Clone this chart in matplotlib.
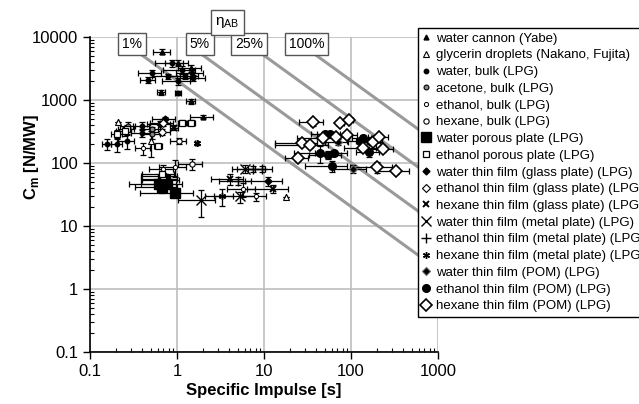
import numpy as np
import matplotlib
matplotlib.use('Agg')
import matplotlib.pyplot as plt
from matplotlib.lines import Line2D

plt.rcParams['font.family'] = ['Liberation Sans', 'DejaVu Sans']
plt.rcParams['mathtext.fontset'] = 'custom'
plt.rcParams['mathtext.rm'] = 'Liberation Sans'
plt.rcParams['mathtext.bf'] = 'Liberation Sans:bold'

x_ticks = [0.1, 1, 10, 100, 1000]
x_tick_labels = ['0.1', '1', '10', '100', '1000']
y_ticks = [0.1, 1, 10, 100, 1000, 10000]
y_tick_labels = ['0.1', '1', '10', '100', '1000', '10000']

# efficiency lines eta_AB = Cm * g * Isp / 2
eta_values = [0.01, 0.05, 0.25, 1.0]
eta_labels = ['1%', '5%', '25%', '100%']
g0 = 9.8

# each series: Isp [s], Cm [N/MW], relative x error, relative y error
cannon_x = [0.678, 1.035, 1.45, 0.655, 1.44, 2.0]
cannon_y = [5870, 3855, 3215, 1327, 958, 543]
cannon_xe = [0.22, 0.3, 0.3, 0.1, 0.12, 0.3]
cannon_ye = [0.08, 0.1, 0.12, 0.08, 0.1, 0.06]

glyc_x = [0.208, 0.502, 17.9]
glyc_y = [447, 224, 28.8]
glyc_xe = [0, 0, 0]
glyc_ye = [0, 0.45, 0]

wbulk_x = [0.869, 1.15, 1.48, 0.51, 0.465, 0.795, 1.035, 1.54, 1.24, 1.02, 0.156, 0.203, 0.264, 0.393, 0.393]
wbulk_y = [3855, 3020, 2680, 2680, 2100, 2370, 1980, 2240, 2370, 1297, 199, 199, 224, 387, 300]
wbulk_xe = [0.35, 0.4, 0.35, 0.3, 0.2, 0.35, 0.35, 0.35, 0.4, 0.08, 0.13, 0.15, 0.2, 0.2, 0.25]
wbulk_ye = [0.12, 0.15, 0.15, 0.12, 0.12, 0.1, 0.12, 0.1, 0.1, 0.08, 0.2, 0.25, 0.25, 0.15, 0.15]

abulk_x = [0.275, 0.512, 0.51]
abulk_y = [387, 286, 343]
abulk_xe = [0.2, 0.25, 0.2]
abulk_ye = [0.15, 0.15, 0.1]

ebulk_x = [0.41, 0.686, 0.948, 5.78, 8.09]
ebulk_y = [170, 80.5, 85.5, 39, 29.4]
ebulk_xe = [0.2, 0.3, 0.35, 0.35, 0.3]
ebulk_ye = [0.2, 0.15, 0.3, 0.25, 0.15]

hbulk_x = [1.05, 1.48]
hbulk_y = [224, 96.4]
hbulk_xe = [0.2, 0.3]
hbulk_ye = [0.12, 0.2]

wpor_x = [0.627, 0.728, 0.762, 0.948, 0.667, 0.697]
wpor_y = [46.7, 54, 46.7, 33.4, 41.4, 56]
wpor_xe = [0.55, 0.45, 0.5, 0.6, 0.5, 0.45]
wpor_ye = [0.15, 0.1, 0.15, 0.15, 0.2, 0.1]

epor_x = [0.203, 0.264, 0.61, 1.15, 1.45, 0.697, 0.25, 0.667]
epor_y = [286, 343, 187, 438, 438, 63, 320, 67]
epor_xe = [0.15, 0.2, 0.1, 0.1, 0.1, 0.45, 0.2, 0.4]
epor_ye = [0.15, 0.15, 0.08, 0.08, 0.08, 0.1, 0.15, 0.1]

wglass_x = [0.638, 0.728, 11.0]
wglass_y = [411, 493, 51.5]
wglass_xe = [0.3, 0.3, 0.45]
wglass_ye = [0.15, 0.1, 0.15]

eglass_x = [0.697, 0.667]
eglass_y = [438, 311]
eglass_xe = [0.3, 0.25]
eglass_ye = [0.12, 0.12]

hglass_x = [0.93, 4.06, 12.6]
hglass_y = [365, 56, 39]
hglass_xe = [0.1, 0.4, 0.5]
hglass_ye = [0.08, 0.2, 0.15]

wmetal_x = [1.89, 5.29, 6.05]
wmetal_y = [25.5, 29.4, 80.5]
wmetal_xe = [0.45, 0.5, 0.3]
wmetal_ye = [0.45, 0.2, 0.15]

emetal_x = [7.54, 9.42, 5.07]
emetal_y = [80.5, 80.5, 52.6]
emetal_xe = [0.35, 0.3, 0.4]
emetal_ye = [0.1, 0.1, 0.15]

hmetal_x = [1.68, 3.27]
hmetal_y = [207, 29.4]
hmetal_xe = [0.05, 0.35]
hmetal_ye = [0.05, 0.3]

wpom_x = [106, 71.5]
wpom_y = [80.5, 216]
wpom_xe = [0.4, 0.3]
wpom_ye = [0.15, 0.12]

epom_x = [50.2, 57.4, 127, 136, 165, 162, 44.1, 54.9, 63.8, 60]
epom_y = [286, 286, 224, 254, 224, 147, 144, 134, 143, 90.6]
epom_xe = [0.3, 0.3, 0.3, 0.25, 0.3, 0.3, 0.5, 0.4, 0.4, 0.5]
epom_ye = [0.1, 0.1, 0.12, 0.1, 0.1, 0.15, 0.3, 0.15, 0.1, 0.2]

hpom_x = [36.3, 74.8, 95.6, 27.1, 33.8, 24.8, 48.1, 67.3, 89.4, 177, 211, 138, 231, 197, 329]
hpom_y = [447, 438, 481, 204, 192, 119, 245, 263, 276, 212, 263, 170, 166, 85.5, 75.7]
hpom_xe = [0.3, 0.1, 0.1, 0.5, 0.6, 0.3, 0.5, 0.4, 0.3, 0.3, 0.25, 0.4, 0.3, 0.5, 0.4]
hpom_ye = [0.12, 0.05, 0.05, 0.1, 0.1, 0.1, 0.1, 0.1, 0.1, 0.1, 0.1, 0.1, 0.1, 0.2, 0.1]

fig = plt.figure(figsize=(6.39, 4.04), dpi=100)
ax = fig.add_axes([0.1408, 0.1287, 0.5446, 0.7797])
ax.set_xscale('log')
ax.set_yscale('log')
ax.set_xlim(0.1, 1000)
ax.set_ylim(0.1, 10000)

ax.grid(True, which='major', color='#bdbdbd', linewidth=1.2, zorder=0)
ax.set_axisbelow(True)

for eta in eta_values:
    cm_top = 5200.0
    isp_top = 2 * eta / (g0 * cm_top * 1e-6)
    isp_end = 1000.0
    cm_end = 2 * eta / (g0 * isp_end) * 1e6
    ax.plot([isp_top, isp_end], [cm_top, cm_end], color='#9a9a9a', linewidth=2.2, zorder=1, clip_on=False)

series = [
    (cannon_x, cannon_y, cannon_xe, cannon_ye, 'water cannon (Yabe)', dict(marker='^', ms=3.5, mfc='black', mec='black')),
    (glyc_x, glyc_y, glyc_xe, glyc_ye, 'glycerin droplets (Nakano, Fujita)', dict(marker='^', ms=4, mfc='white', mec='black', mew=0.8)),
    (wbulk_x, wbulk_y, wbulk_xe, wbulk_ye, 'water, bulk (LPG)', dict(marker='o', ms=3.2, mfc='black', mec='black')),
    (abulk_x, abulk_y, abulk_xe, abulk_ye, 'acetone, bulk (LPG)', dict(marker='o', ms=3.5, mfc='#888888', mec='black', mew=0.8)),
    (ebulk_x, ebulk_y, ebulk_xe, ebulk_ye, 'ethanol, bulk (LPG)', dict(marker='o', ms=3, mfc='white', mec='black', mew=0.7)),
    (hbulk_x, hbulk_y, hbulk_xe, hbulk_ye, 'hexane, bulk (LPG)', dict(marker='o', ms=3.8, mfc='white', mec='black', mew=0.8)),
    (wpor_x, wpor_y, wpor_xe, wpor_ye, 'water porous plate (LPG)', dict(marker='s', ms=6.5, mfc='black', mec='black')),
    (epor_x, epor_y, epor_xe, epor_ye, 'ethanol porous plate (LPG)', dict(marker='s', ms=4, mfc='white', mec='black', mew=0.9)),
    (wglass_x, wglass_y, wglass_xe, wglass_ye, 'water thin film (glass plate) (LPG)', dict(marker='D', ms=3.5, mfc='black', mec='black')),
    (eglass_x, eglass_y, eglass_xe, eglass_ye, 'ethanol thin film (glass plate) (LPG)', dict(marker='D', ms=3.8, mfc='white', mec='black', mew=0.8)),
    (hglass_x, hglass_y, hglass_xe, hglass_ye, 'hexane thin film (glass plate) (LPG)', dict(marker='x', ms=4, mec='black', mew=1.4)),
    (wmetal_x, wmetal_y, wmetal_xe, wmetal_ye, 'water thin film (metal plate) (LPG)', dict(marker='x', ms=7, mec='black', mew=1.0)),
    (emetal_x, emetal_y, emetal_xe, emetal_ye, 'ethanol thin film (metal plate) (LPG)', dict(marker='+', ms=7, mec='black', mew=1.0)),
    (hmetal_x, hmetal_y, hmetal_xe, hmetal_ye, 'hexane thin film (metal plate) (LPG)', dict(marker=(6, 2, 0), ms=5, mec='black', mew=1.0)),
    (wpom_x, wpom_y, wpom_xe, wpom_ye, 'water thin film (POM) (LPG)', dict(marker='D', ms=4.5, mfc='black', mec='#666666', mew=0.8)),
    (epom_x, epom_y, epom_xe, epom_ye, 'ethanol thin film (POM) (LPG)', dict(marker='o', ms=5.5, mfc='black', mec='black')),
    (hpom_x, hpom_y, hpom_xe, hpom_ye, 'hexane thin film (POM) (LPG)', dict(marker='D', ms=6.5, mfc='white', mec='black', mew=1.2)),
]

handles = []
for sx, sy, sxe, sye, label, style in series:
    sx = np.array(sx)
    sy = np.array(sy)
    xe = np.array(sxe) * sx
    ye = np.array(sye) * sy
    ax.errorbar(sx, sy, xerr=xe, yerr=ye, fmt='none', ecolor='black', elinewidth=0.9,
                capsize=2.5, capthick=0.9, zorder=3)
    ax.plot(sx, sy, linestyle='none', zorder=4, **style)
    handles.append(Line2D([], [], linestyle='none', label=label, **style))

ax.set_xticks(x_ticks)
ax.set_xticklabels(x_tick_labels)
ax.set_yticks(y_ticks)
ax.set_yticklabels(y_tick_labels)
ax.tick_params(which='major', direction='out', length=5, width=1, labelsize=12)
ax.tick_params(which='minor', direction='in', length=3, width=0.8)
ax.xaxis.set_minor_formatter(matplotlib.ticker.NullFormatter())
ax.yaxis.set_minor_formatter(matplotlib.ticker.NullFormatter())
ax.spines['top'].set_visible(False)
ax.spines['right'].set_visible(False)
ax.spines['left'].set_linewidth(1.2)
ax.spines['bottom'].set_linewidth(1.2)

ax.set_xlabel('Specific Impulse [s]', fontsize=12, fontweight='bold', labelpad=3)
ax.set_ylabel(r'C$_{\mathbf{m}}$ [N/MW]', fontsize=12, fontweight='bold')
ax.yaxis.set_label_coords(-0.14, 0.62)

box = dict(boxstyle='square,pad=0.3', facecolor='white', edgecolor='#555555', linewidth=1)
label_pos = [0.121, 0.316, 0.457, 0.622]
for lab, px in zip(eta_labels, label_pos):
    ax.text(px, 0.978, lab, transform=ax.transAxes, fontsize=10, ha='center', va='center', bbox=box, zorder=6)
ax.text(0.395, 1.046, r'η$_{\mathrm{AB}}$', transform=ax.transAxes, fontsize=11, ha='center', va='center',
        bbox=box, zorder=6)

leg = fig.legend(handles=handles, loc='upper left', bbox_to_anchor=(0.654, 0.931), bbox_transform=fig.transFigure,
                 fontsize=9.5, frameon=True, fancybox=False, edgecolor='black', framealpha=1,
                 handlelength=0.6, handletextpad=0.4, labelspacing=0.34, borderpad=0.35, borderaxespad=0)
leg.get_frame().set_linewidth(1.0)

fig.savefig('out.png', dpi=100)
